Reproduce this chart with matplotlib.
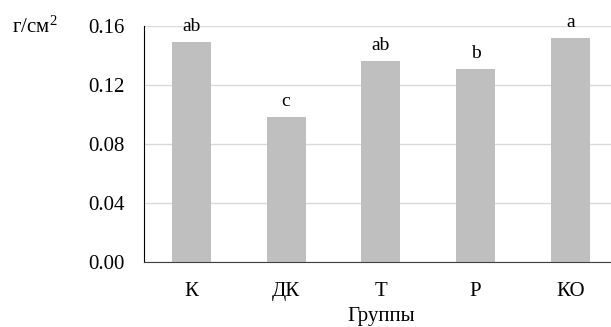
import matplotlib
matplotlib.use("Agg")
import matplotlib.pyplot as plt

# data
groups = ["К", "ДК", "Т", "Р", "КО"]
values = [0.149, 0.098, 0.136, 0.1305, 0.152]
letters = ["ab", "c", "ab", "b", "a"]
yticks = [0.00, 0.04, 0.08, 0.12, 0.16]

plt.rcParams["font.family"] = ["Liberation Serif", "DejaVu Serif"]
plt.rcParams["mathtext.fontset"] = "custom"
plt.rcParams["mathtext.rm"] = "Liberation Serif"

fig = plt.figure(figsize=(6.11, 3.27), dpi=100)
ax = fig.add_axes([0.2357, 0.2003, 0.7643, 0.7202])

x = range(len(groups))
bars = ax.bar(x, values, width=0.41, color="#bfbfbf", zorder=2)

# significance letters above bars
for b, lab in zip(bars, letters):
    ax.annotate(lab, (b.get_x() + b.get_width() / 2, b.get_height()),
                xytext=(0, 5), textcoords="offset points",
                ha="center", va="bottom", fontsize=14)

ax.set_xlim(-0.5, 4.43)
ax.set_ylim(0, 0.16)
ax.set_yticks(yticks)
ax.set_yticklabels([f"{v:.2f}" for v in yticks])
ax.set_xticks(list(x))
ax.set_xticklabels(groups)
ax.tick_params(axis="both", length=0, labelsize=15)
ax.tick_params(axis="y", pad=14)
ax.tick_params(axis="x", pad=15)

ax.grid(axis="y", color="#d9d9d9", linewidth=1, zorder=0)
for s in ["top", "right"]:
    ax.spines[s].set_visible(False)
ax.spines["left"].set_color("black")
ax.spines["bottom"].set_color("#404040")

ax.set_xlabel("Группы", fontsize=15)
ax.xaxis.set_label_coords((381 - 144) / 467, -(321 - 261.5) / 235.5)
ax.xaxis.label.set_va("baseline")
fig.text(12 / 611, 1 - 27 / 327, "г/см$\\mathrm{^2}$", fontsize=15, ha="left", va="center")

fig.savefig("out.png", dpi=100)
